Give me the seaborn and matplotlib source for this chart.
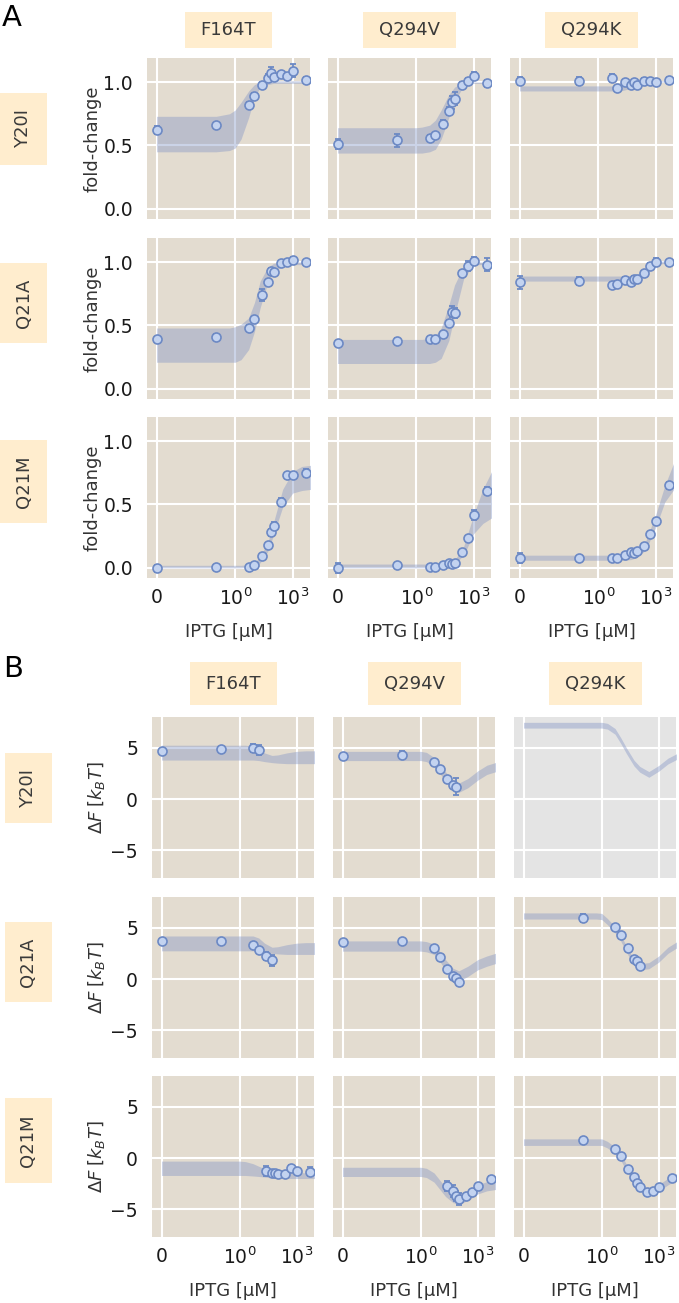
import matplotlib
matplotlib.use('Agg')
import matplotlib.pyplot as plt
import seaborn as sns
from matplotlib.patches import Rectangle
from matplotlib.ticker import NullLocator

# ---------------- data ----------------
mutants_dna = ['Y20I', 'Q21A', 'Q21M']
mutants_ind = ['F164T', 'Q294V', 'Q294K']

iptg = [0, 0.1, 5, 10, 25, 50, 75, 100, 250, 500, 1000, 5000]
band_x = [0, 0.1, 0.5, 1, 2, 5, 10, 20, 50, 100, 300, 1000, 3000, 10000]

# A: fold-change, mean / sem, and credible band (lower, upper)
fc_Y20I_F164T = [0.62, 0.66, 0.82, 0.89, 0.98, 1.03, 1.07, 1.04, 1.06, 1.05, 1.09, 1.02]
err_Y20I_F164T = [0.03, 0.02, 0.02, 0.02, 0.02, 0.03, 0.05, 0.02, 0.02, 0.02, 0.05, 0.02]
lo_Y20I_F164T = [0.45, 0.45, 0.46, 0.48, 0.55, 0.72, 0.88, 0.96, 0.98, 0.99, 0.99, 0.99, 0.99, 0.99]
hi_Y20I_F164T = [0.73, 0.73, 0.75, 0.78, 0.84, 0.93, 0.98, 1.0, 1.01, 1.01, 1.01, 1.01, 1.01, 1.01]

fc_Y20I_Q294V = [0.51, 0.54, 0.56, 0.58, 0.67, 0.77, 0.84, 0.87, 0.98, 1.01, 1.05, 0.99]
err_Y20I_Q294V = [0.04, 0.05, 0.02, 0.02, 0.03, 0.03, 0.05, 0.05, 0.02, 0.02, 0.03, 0.03]
lo_Y20I_Q294V = [0.44, 0.44, 0.44, 0.44, 0.44, 0.45, 0.47, 0.55, 0.72, 0.85, 0.97, 0.99, 0.99, 0.99]
hi_Y20I_Q294V = [0.64, 0.64, 0.64, 0.64, 0.645, 0.66, 0.70, 0.78, 0.90, 0.96, 1.0, 1.0, 1.0, 1.0]

fc_Y20I_Q294K = [1.01, 1.01, 1.03, 0.95, 1.0, 0.98, 1.0, 0.98, 1.01, 1.01, 1.0, 1.02]
err_Y20I_Q294K = [0.03, 0.03, 0.03, 0.02, 0.02, 0.02, 0.02, 0.02, 0.02, 0.02, 0.02, 0.02]
lo_Y20I_Q294K = [0.93, 0.93, 0.93, 0.93, 0.93, 0.93, 0.93, 0.935, 0.95, 0.97, 0.99, 1.0, 1.0, 1.0]
hi_Y20I_Q294K = [0.97, 0.97, 0.97, 0.97, 0.97, 0.97, 0.97, 0.975, 0.985, 0.99, 1.0, 1.01, 1.01, 1.01]

fc_Q21A_F164T = [0.39, 0.41, 0.48, 0.55, 0.74, 0.84, 0.93, 0.92, 0.99, 1.00, 1.02, 1.00]
err_Q21A_F164T = [0.02, 0.02, 0.02, 0.02, 0.05, 0.02, 0.02, 0.02, 0.02, 0.02, 0.02, 0.02]
lo_Q21A_F164T = [0.21, 0.21, 0.21, 0.21, 0.23, 0.31, 0.45, 0.64, 0.84, 0.92, 0.97, 0.98, 0.98, 0.98]
hi_Q21A_F164T = [0.48, 0.48, 0.48, 0.49, 0.51, 0.56, 0.68, 0.85, 0.96, 0.99, 1.0, 1.0, 1.0, 1.0]

fc_Q21A_Q294V = [0.36, 0.38, 0.39, 0.39, 0.43, 0.52, 0.61, 0.60, 0.91, 0.97, 1.01, 0.98]
err_Q21A_Q294V = [0.02, 0.02, 0.02, 0.02, 0.02, 0.02, 0.04, 0.04, 0.02, 0.04, 0.03, 0.05]
lo_Q21A_Q294V = [0.20, 0.20, 0.20, 0.20, 0.20, 0.20, 0.21, 0.24, 0.38, 0.58, 0.87, 0.98, 0.98, 0.98]
hi_Q21A_Q294V = [0.39, 0.39, 0.39, 0.39, 0.39, 0.40, 0.42, 0.48, 0.66, 0.82, 0.97, 1.0, 1.0, 1.0]

fc_Q21A_Q294K = [0.84, 0.85, 0.82, 0.83, 0.86, 0.84, 0.87, 0.87, 0.91, 0.97, 1.00, 1.00]
err_Q21A_Q294K = [0.05, 0.03, 0.02, 0.02, 0.02, 0.02, 0.02, 0.02, 0.02, 0.02, 0.03, 0.02]
lo_Q21A_Q294K = [0.85, 0.85, 0.85, 0.85, 0.85, 0.85, 0.85, 0.85, 0.855, 0.87, 0.93, 0.98, 0.99, 0.99]
hi_Q21A_Q294K = [0.89, 0.89, 0.89, 0.89, 0.89, 0.89, 0.89, 0.89, 0.895, 0.90, 0.95, 1.0, 1.01, 1.01]

fc_Q21M_F164T = [-0.005, 0.005, 0.01, 0.02, 0.09, 0.18, 0.28, 0.33, 0.52, 0.73, 0.73, 0.75]
err_Q21M_F164T = [0.03, 0.01, 0.01, 0.01, 0.01, 0.01, 0.03, 0.03, 0.03, 0.02, 0.01, 0.03]
lo_Q21M_F164T = [0.0, 0.0, 0.0, 0.0, 0.0, 0.005, 0.015, 0.04, 0.13, 0.26, 0.48, 0.59, 0.61, 0.62]
hi_Q21M_F164T = [0.02, 0.02, 0.02, 0.02, 0.02, 0.025, 0.04, 0.09, 0.20, 0.36, 0.62, 0.76, 0.80, 0.81]

fc_Q21M_Q294V = [0.0, 0.02, 0.005, 0.01, 0.02, 0.035, 0.03, 0.04, 0.125, 0.235, 0.42, 0.61]
err_Q21M_Q294V = [0.04, 0.01, 0.01, 0.01, 0.01, 0.01, 0.01, 0.01, 0.01, 0.01, 0.04, 0.03]
lo_Q21M_Q294V = [0.0, 0.0, 0.0, 0.0, 0.0, 0.0, 0.0, 0.005, 0.015, 0.03, 0.10, 0.27, 0.35, 0.40]
hi_Q21M_Q294V = [0.03, 0.03, 0.03, 0.03, 0.03, 0.03, 0.03, 0.03, 0.04, 0.06, 0.17, 0.42, 0.62, 0.78]

fc_Q21M_Q294K = [0.08, 0.08, 0.08, 0.08, 0.10, 0.125, 0.115, 0.13, 0.17, 0.27, 0.37, 0.65]
err_Q21M_Q294K = [0.04, 0.01, 0.01, 0.01, 0.01, 0.01, 0.01, 0.01, 0.01, 0.01, 0.01, 0.03]
lo_Q21M_Q294K = [0.06, 0.06, 0.06, 0.06, 0.06, 0.06, 0.06, 0.06, 0.065, 0.08, 0.14, 0.32, 0.52, 0.63]
hi_Q21M_Q294K = [0.10, 0.10, 0.10, 0.10, 0.10, 0.10, 0.10, 0.10, 0.105, 0.12, 0.21, 0.42, 0.65, 0.85]

# B: free energy shift, measured points (x, mean, sem) and inferred band
dx_Y20I_F164T = [0, 0.1, 5, 10]
dF_Y20I_F164T = [4.69, 4.85, 5.0, 4.75]
dFerr_Y20I_F164T = [0.15, 0.15, 0.4, 0.5]
dlo_Y20I_F164T = [3.8, 3.8, 3.8, 3.8, 3.8, 3.8, 3.75, 3.65, 3.55, 3.5, 3.45, 3.45, 3.45, 3.45]
dhi_Y20I_F164T = [5.25, 5.25, 5.25, 5.25, 5.25, 5.15, 4.9, 4.5, 4.25, 4.3, 4.5, 4.65, 4.7, 4.7]

dx_Y20I_Q294V = [0, 0.1, 5, 10, 25, 50, 75]
dF_Y20I_Q294V = [4.2, 4.34, 3.65, 2.93, 1.94, 1.38, 1.22]
dFerr_Y20I_Q294V = [0.15, 0.3, 0.15, 0.15, 0.15, 0.2, 0.8]
dlo_Y20I_Q294V = [3.75, 3.75, 3.75, 3.75, 3.65, 3.15, 2.5, 1.75, 0.95, 0.65, 1.1, 1.85, 2.4, 2.7]
dhi_Y20I_Q294V = [4.65, 4.65, 4.65, 4.65, 4.55, 4.05, 3.4, 2.65, 1.85, 1.55, 2.0, 2.75, 3.3, 3.6]

dx_Y20I_Q294K = []
dF_Y20I_Q294K = []
dFerr_Y20I_Q294K = []
dlo_Y20I_Q294K = [6.92, 6.92, 6.92, 6.92, 6.82, 6.32, 5.42, 4.42, 3.22, 2.62, 2.12, 2.72, 3.42, 3.92]
dhi_Y20I_Q294K = [7.48, 7.48, 7.48, 7.48, 7.38, 6.88, 5.98, 4.98, 3.78, 3.18, 2.68, 3.28, 3.98, 4.48]

dx_Q21A_F164T = [0, 0.1, 5, 10, 25, 50]
dF_Q21A_F164T = [3.68, 3.75, 3.36, 2.80, 2.24, 1.81]
dFerr_Q21A_F164T = [0.12, 0.12, 0.15, 0.15, 0.4, 0.5]
dlo_Q21A_F164T = [2.75, 2.75, 2.75, 2.75, 2.75, 2.75, 2.7, 2.6, 2.5, 2.45, 2.4, 2.4, 2.4, 2.4]
dhi_Q21A_F164T = [4.2, 4.2, 4.2, 4.2, 4.2, 4.2, 4.0, 3.5, 3.1, 3.15, 3.35, 3.5, 3.55, 3.55]

dx_Q21A_Q294V = [0, 0.1, 5, 10, 25, 50, 75, 100]
dF_Q21A_Q294V = [3.62, 3.72, 3.06, 2.17, 0.95, 0.33, 0.1, -0.3]
dFerr_Q21A_Q294V = [0.12, 0.12, 0.12, 0.12, 0.12, 0.15, 0.2, 0.2]
dlo_Q21A_Q294V = [2.72, 2.72, 2.72, 2.72, 2.65, 2.4, 1.7, 0.9, 0.05, -0.2, 0.25, 0.9, 1.25, 1.55]
dhi_Q21A_Q294V = [3.72, 3.72, 3.72, 3.72, 3.65, 3.4, 2.7, 1.9, 1.05, 0.8, 1.25, 1.9, 2.25, 2.55]

dx_Q21A_Q294K = [0.1, 5, 10, 25, 50, 75, 100]
dF_Q21A_Q294K = [5.95, 5.03, 4.31, 3.06, 1.91, 1.74, 1.25]
dFerr_Q21A_Q294K = [0.4, 0.12, 0.12, 0.12, 0.12, 0.15, 0.2]
dlo_Q21A_Q294K = [5.85, 5.85, 5.85, 5.8, 5.3, 4.5, 3.7, 2.6, 1.3, 0.9, 1.0, 1.65, 2.5, 3.1]
dhi_Q21A_Q294K = [6.45, 6.45, 6.45, 6.4, 5.9, 5.1, 4.3, 3.2, 1.9, 1.5, 1.6, 2.25, 3.1, 3.7]

dx_Q21M_F164T = [25, 50, 75, 100, 250, 500, 1000, 5000]
dF_Q21M_F164T = [-1.25, -1.42, -1.49, -1.58, -1.58, -0.99, -1.25, -1.32]
dFerr_Q21M_F164T = [0.5, 0.2, 0.15, 0.15, 0.15, 0.3, 0.15, 0.4]
dlo_Q21M_F164T = [-1.7, -1.7, -1.7, -1.7, -1.7, -1.75, -1.8, -1.85, -1.95, -2.0, -2.0, -2.0, -2.0, -2.0]
dhi_Q21M_F164T = [-0.3, -0.3, -0.3, -0.3, -0.35, -0.55, -0.8, -1.05, -1.2, -1.3, -1.35, -1.4, -1.45, -1.5]

dx_Q21M_Q294V = [25, 50, 75, 100, 250, 500, 1000, 5000]
dF_Q21M_Q294V = [-2.7, -3.2, -3.7, -4.0, -3.7, -3.3, -2.7, -2.0]
dFerr_Q21M_Q294V = [0.5, 0.6, 0.5, 0.6, 0.2, 0.2, 0.2, 0.2]
dlo_Q21M_Q294V = [-1.8, -1.8, -1.8, -1.8, -1.9, -2.35, -3.05, -3.75, -4.35, -4.5, -4.15, -3.5, -3.2, -3.05]
dhi_Q21M_Q294V = [-0.9, -0.9, -0.9, -0.9, -1.0, -1.45, -2.15, -2.85, -3.45, -3.6, -3.25, -2.6, -2.3, -2.15]

dx_Q21M_Q294K = [0.1, 5, 10, 25, 50, 75, 100, 250, 500, 1000, 5000]
dF_Q21M_Q294K = [1.72, 0.89, 0.23, -1.09, -1.85, -2.41, -2.81, -3.3, -3.17, -2.81, -1.98]
dFerr_Q21M_Q294K = [0.12, 0.12, 0.12, 0.12, 0.12, 0.12, 0.12, 0.12, 0.12, 0.12, 0.12]
dlo_Q21M_Q294K = [1.23, 1.23, 1.23, 1.23, 0.98, 0.43, -0.22, -1.27, -2.42, -3.22, -3.72, -3.22, -2.62, -2.07]
dhi_Q21M_Q294K = [1.87, 1.87, 1.87, 1.87, 1.62, 1.07, 0.42, -0.63, -1.78, -2.58, -3.08, -2.58, -1.98, -1.43]

# ---------------- style ----------------
W, H = 679, 1303
BG = '#E3DCD0'
CREAM = '#FFEDCE'
BAND = '#8596C6'
FACE = '#C3D3F0'
EDGE = '#6C89C4'

sns.set_theme(style='darkgrid', rc={
    'axes.facecolor': BG,
    'grid.color': 'white',
    'grid.linewidth': 1.5,
    'xtick.major.size': 0,
    'ytick.major.size': 0,
    'axes.linewidth': 0,
})
plt.rcParams['font.family'] = ['DejaVu Sans']

fig = plt.figure(figsize=(W / 100, H / 100), dpi=100)


def rect(x0, y0, w, h):
    return [x0 / W, 1 - (y0 + h) / H, w / W, h / H]


def box(x0, y0, w, h, text, rot=0):
    fig.add_artist(Rectangle((x0 / W, 1 - (y0 + h) / H), w / W, h / H,
                             transform=fig.transFigure, color=CREAM, lw=0))
    fig.text((x0 + w / 2) / W, 1 - (y0 + h / 2) / H, text, rotation=rot,
             ha='center', va='center', fontsize=13, color='#3a3a3a')


def style_axis(ax, row, col, yticks, ylabels, ylabel):
    ax.set_xscale('symlog', linthresh=1e-3)
    ax.set_xlim(-4.5e-4, 8000)
    ax.set_xticks([0, 1, 1000])
    ax.xaxis.set_minor_locator(NullLocator())
    ax.set_yticks(yticks)
    ax.tick_params(axis='x', pad=7, labelsize=13.5, colors='#1a1a1a')
    ax.tick_params(axis='y', pad=10, labelsize=13.5, colors='#1a1a1a')
    if row == 2:
        ax.set_xticklabels(['0', r'$10^0$', r'$10^3$'])
        ax.set_xlabel('IPTG [µM]', fontsize=13, color='#333333')
        ax.xaxis.set_label_coords(0.5, -0.28)
    else:
        ax.set_xticklabels([])
    if col == 0:
        ax.set_yticklabels(ylabels)
        ax.set_ylabel(ylabel, fontsize=13, color='#333333')
        ax.yaxis.set_label_coords(-0.28, 0.5)
    else:
        ax.set_yticklabels([])
    for s in ax.spines.values():
        s.set_visible(False)


def draw_points(ax, x, y, e):
    if len(x) == 0:
        return
    ax.errorbar(x, y, yerr=e, fmt='none', ecolor=EDGE, elinewidth=1.3,
                capsize=2.5, capthick=1.3, zorder=3)
    sns.scatterplot(x=x, y=y, ax=ax, s=42, color=FACE, edgecolor=EDGE,
                    linewidth=1.2, zorder=4, legend=False)


colA = [147, 328, 510]
rowA = [58, 238, 417]
colB = [152, 333, 514]
rowB = [717, 897, 1076]

g = globals()

# ---------------- panel A ----------------
for r, dna in enumerate(mutants_dna):
    for c, ind in enumerate(mutants_ind):
        key = f'{dna}_{ind}'
        ax = fig.add_axes(rect(colA[c], rowA[r], 163, 161))
        ax.fill_between(band_x, g['lo_' + key], g['hi_' + key], color=BAND,
                        alpha=0.42, lw=0, zorder=2)
        draw_points(ax, iptg, g['fc_' + key], g['err_' + key])
        ax.set_ylim(-0.08, 1.19)
        style_axis(ax, r, c, [0, 0.5, 1.0], ['0.0', '0.5', '1.0'], 'fold-change')

# ---------------- panel B ----------------
for r, dna in enumerate(mutants_dna):
    for c, ind in enumerate(mutants_ind):
        key = f'{dna}_{ind}'
        ax = fig.add_axes(rect(colB[c], rowB[r], 162, 161))
        if len(g['dx_' + key]) == 0:
            ax.set_facecolor('#E4E4E4')
        ax.fill_between(band_x, g['dlo_' + key], g['dhi_' + key], color=BAND,
                        alpha=0.42, lw=0, zorder=2)
        draw_points(ax, g['dx_' + key], g['dF_' + key], g['dFerr_' + key])
        ax.set_ylim(-7.7, 8.0)
        style_axis(ax, r, c, [-5, 0, 5], ['\u22125', '0', '5'],
                   r'$\Delta F\;[k_BT]$')

# ---------------- labels ----------------
for c, ind in enumerate(mutants_ind):
    wA = 87 if c == 0 else 93
    box(colA[c] + 81.5 - wA / 2, 12, wA, 36, ind)
    box(colB[c] + 81 - wA / 2, 662, wA, 43, ind)

rowboxA = [(93, 72), (263, 80), (440, 83)]
rowboxB = [(753, 70), (922, 80), (1098, 85)]
for r, dna in enumerate(mutants_dna):
    y0, h = rowboxA[r]
    box(0, y0, 47, h, dna, rot=90)
    y0, h = rowboxB[r]
    box(5, y0, 47, h, dna, rot=90)

fig.text(2 / W, 1 - 4 / H, 'A', fontsize=21, ha='left', va='top', color='black')
fig.text(3 / W, 1 - 655 / H, 'B', fontsize=21, ha='left', va='top', color='black')

fig.savefig('out.png', dpi=100)
